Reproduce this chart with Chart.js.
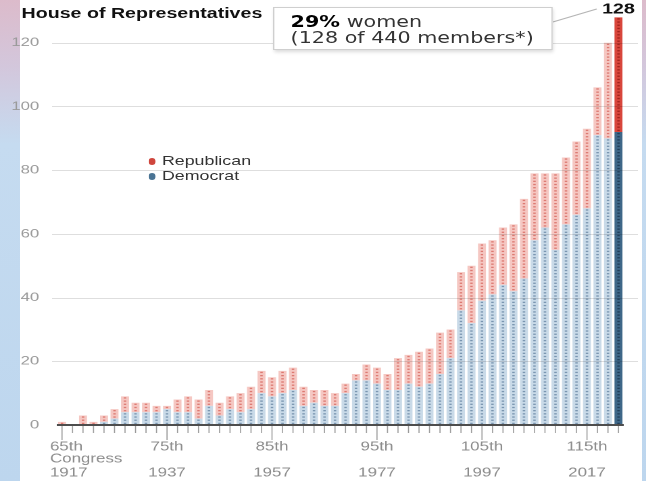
<!DOCTYPE html>
<html lang="en">
<head>
<meta charset="UTF-8">
<title>Women in the House of Representatives</title>
<script src="https://cdn.jsdelivr.net/npm/chart.js"></script>
<style>
    html, body { margin: 0; padding: 0; }
    body { width: 646px; height: 481px; overflow: hidden; position: relative;
           background: linear-gradient(to bottom, #dcbbcb 0%, #d3c7dc 14%, #c5dbf0 30%, #bdd6ee 100%);
           font-family: "Liberation Sans", Arial, sans-serif; }
    #panel { position: absolute; left: 20px; top: 0; width: 622px; height: 481px; background: #fff; }
    /* the original picture is stretched sideways, so the whole chart is drawn narrow and widened */
    #stage { position: absolute; left: 0; top: 0; width: 478px; height: 481px;
             transform: scaleX(1.3515); transform-origin: 0 0; }
    #chart { position: absolute; left: 0; top: 0; }
    .title { position: absolute; left: 16px; top: 6px; font-weight: bold; font-size: 14.5px;
             line-height: 1; color: #111; white-space: nowrap; }
    .note { position: absolute; left: 202px; top: 7px; width: 207px; height: 43px; box-sizing: border-box;
            border: 1px solid #cfcfcf; background: #fff; box-shadow: 1px 2px 3px rgba(0,0,0,.15);
            padding: 6px 0 0 12px; font-family: "DejaVu Sans", sans-serif; font-size: 15.3px;
            line-height: 16px; color: #333; white-space: nowrap; }
    .note b { color: #000; }
    .legend { position: absolute; left: 109.6px; top: 152.5px; font-size: 13.2px; line-height: 15px; color: #333; }
    .legend .dot { display: inline-block; width: 5.7px; height: 6.7px; border-radius: 50%;
                   margin-right: 4.5px; vertical-align: 0px; }
</style>
</head>
<body>
<div id="panel"></div>
<div id="stage">
    <canvas id="chart" width="478" height="481"></canvas>
    <div class="title">House of Representatives</div>
    <div class="note"><b>29%</b> women<br>(128 of 440 members*)</div>
    <div class="legend">
        <div><span class="dot" style="background:#cf463d"></span>Republican</div>
        <div><span class="dot" style="background:#4a7494"></span>Democrat</div>
    </div>
</div>
<script>
const congress = [65, 66, 67, 68, 69, 70, 71, 72, 73, 74, 75, 76, 77, 78, 79, 80, 81, 82, 83, 84,
                  85, 86, 87, 88, 89, 90, 91, 92, 93, 94, 95, 96, 97, 98, 99, 100, 101, 102, 103, 104,
                  105, 106, 107, 108, 109, 110, 111, 112, 113, 114, 115, 116, 117, 118];
const democrat = [0, 0, 0, 0, 1, 2, 4, 4, 4, 4, 5, 4, 4, 2, 6, 3, 5, 4, 5, 10,
                  9, 10, 11, 6, 7, 6, 6, 10, 14, 14, 13, 11, 11, 13, 12, 13, 16, 21, 36, 32,
                  39, 41, 44, 42, 46, 58, 62, 55, 63, 66, 68, 91, 90, 92];
const republican = [1, 0, 3, 1, 2, 3, 5, 3, 3, 2, 1, 4, 5, 6, 5, 4, 4, 6, 7, 7,
                    6, 7, 7, 6, 4, 5, 4, 3, 2, 5, 5, 5, 10, 9, 11, 11, 13, 9, 12, 18,
                    18, 17, 18, 21, 25, 21, 17, 24, 21, 23, 25, 15, 30, 36];
const tickCongress = [65, 75, 85, 95, 105, 115];
const tickNames = ['65th', '75th', '85th', '95th', '105th', '115th'];
const tickYears = ['1917', '1937', '1957', '1977', '1997', '2017'];
const yTicks = [0, 20, 40, 60, 80, 100, 120];
const topLabel = '128';

const FONT = '"Liberation Sans", Arial, sans-serif';
const last = congress.length - 1;

function line(ctx, x1, y1, x2, y2) {
    ctx.beginPath(); ctx.moveTo(x1, y1); ctx.lineTo(x2, y2); ctx.stroke();
}

const decor = {
    id: 'decor',
    afterDatasetsDraw(chart) {
        const { ctx, chartArea: a, scales: { x, y } } = chart;
        ctx.save();

        // one small mark for every member, inside each bar
        chart.data.datasets.forEach((ds, di) => {
            chart.getDatasetMeta(di).data.forEach((bar, i) => {
                const base = di === 0 ? 0 : democrat[i];
                ctx.fillStyle = i === last ? ds.dotDark : ds.dotLight;
                for (let k = 0; k < ds.data[i]; k++) {
                    const py = y.getPixelForValue(base + k + 0.5);
                    ctx.fillRect(bar.x - 0.9, py - 0.65, 1.8, 1.3);
                }
            });
        });

        // grid lines
        ctx.strokeStyle = 'rgba(0,0,0,0.13)';
        ctx.lineWidth = 1;
        yTicks.forEach(v => {
            if (v === 0) return;
            const py = Math.round(y.getPixelForValue(v)) + 0.5;
            line(ctx, 38.5, py, 472, py);
        });

        // base line and tick marks
        const y0 = y.getPixelForValue(0);
        ctx.strokeStyle = '#4d4d4d';
        ctx.lineWidth = 2;
        line(ctx, a.left, y0, a.right, y0);
        ctx.strokeStyle = '#9a9a9a';
        ctx.lineWidth = 0.8;
        congress.forEach((c, i) => {
            const px = x.getPixelForValue(i);
            const long = tickCongress.includes(c);
            line(ctx, px, y0 + 1, px, y0 + (long ? 15 : 8));
        });

        // x labels
        ctx.fillStyle = '#8c8c8c';
        ctx.font = '12.5px ' + FONT;
        ctx.textBaseline = 'middle';
        tickCongress.forEach((c, j) => {
            const px = x.getPixelForValue(congress.indexOf(c));
            if (j === 0) {
                ctx.textAlign = 'left';
                ctx.fillText(tickNames[j], px - 8.9, 447);
                ctx.fillText('Congress', px - 8.9, 459);
                ctx.fillText(tickYears[j], px - 8.9, 473);
            } else {
                ctx.textAlign = 'center';
                ctx.fillText(tickNames[j], px, 447);
                ctx.fillText(tickYears[j], px, 473);
            }
        });

        // total above the last bar, and the pointer to the note
        const lb = chart.getDatasetMeta(1).data[last];
        ctx.fillStyle = '#111';
        ctx.font = 'bold 14.6px ' + FONT;
        ctx.textAlign = 'center';
        ctx.fillText(topLabel, lb.x, 9.5);
        ctx.strokeStyle = '#b5b5b5';
        ctx.lineWidth = 1;
        line(ctx, 409, 22, 441.5, 9);

        ctx.restore();
    }
};

new Chart(document.getElementById('chart'), {
    type: 'bar',
    data: {
        labels: congress,
        datasets: [
            { label: 'Democrat', data: democrat,
              backgroundColor: c => c.dataIndex === last ? '#3e6788' : '#c9dae8',
              dotLight: 'rgba(70,105,140,0.6)', dotDark: 'rgba(20,45,70,0.7)',
              barPercentage: 0.76, categoryPercentage: 1, borderWidth: 0 },
            { label: 'Republican', data: republican,
              backgroundColor: c => c.dataIndex === last ? '#d8463c' : '#f5c7c2',
              dotLight: 'rgba(205,70,60,0.6)', dotDark: 'rgba(140,20,15,0.7)',
              barPercentage: 0.76, categoryPercentage: 1, borderWidth: 0 }
        ]
    },
    options: {
        responsive: false,
        devicePixelRatio: 2,
        animation: false,
        layout: { padding: { top: 17.3, right: 16.5, left: 0, bottom: 0 } },
        plugins: { legend: { display: false }, tooltip: { enabled: false } },
        scales: {
            x: {
                stacked: true,
                grid: { display: false },
                border: { display: false },
                ticks: { display: false },
                afterFit: s => { s.height = 56; }
            },
            y: {
                stacked: true,
                min: 0,
                max: 128,
                grid: { display: false },
                border: { display: false },
                afterBuildTicks: s => { s.ticks = yTicks.map(v => ({ value: v })); },
                ticks: { padding: 5, color: '#9a9a9a', font: { family: FONT, size: 12.4 } },
                afterFit: s => { s.width = 42; }
            }
        }
    },
    plugins: [decor]
});
</script>
</body>
</html>
